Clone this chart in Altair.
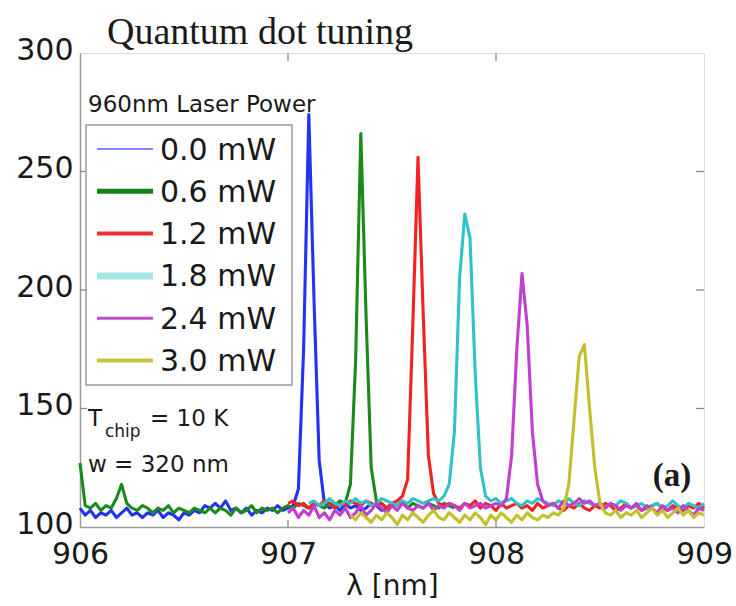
import altair as alt
import pandas as pd

# Photoluminescence spectra of a quantum dot under increasing 960 nm pump power
STEP_NM = 0.025

power_labels = ["0.0 mW", "0.6 mW", "1.2 mW", "1.8 mW", "2.4 mW", "3.0 mW"]
line_colors = ["#2233f5", "#1b8a1b", "#f52020", "#2fc3c9", "#c23ecf", "#c4bf2c"]
legend_colors = ["#7f86ff", "#17801a", "#ee3030", "#a6e6e6", "#c24fd2", "#c9c33a"]
legend_widths = [2, 5, 4, 7, 3, 4]

start_nm = [906.0, 906.0, 907.0, 907.1, 907.0, 907.3]

counts_00 = [108, 105, 107, 104, 106, 105, 107, 104, 106, 108,
             105, 106, 104, 106, 105, 107, 104, 106, 105, 103,
             106, 105, 107, 106, 109, 108, 110, 108, 111, 107,
             108, 106, 108, 105, 107, 106, 108, 107, 109, 107,
             108, 109, 116, 175, 274, 196, 128, 110, 108, 109,
             107, 110, 108, 109, 107, 108, 110, 109, 107, 108, 109]

counts_06 = [127, 109, 108, 110, 107, 109, 108, 112, 118, 110,
             108, 107, 109, 108, 106, 108, 107, 109, 106, 108,
             107, 106, 108, 107, 106, 108, 106, 108, 107, 105,
             108, 106, 107, 109, 106, 108, 107, 108, 106, 108,
             109, 108, 110, 109, 108, 110, 109, 108, 110, 109,
             111, 110, 118, 170, 266, 190, 125, 111, 110, 108,
             110, 109, 111, 108, 110, 109, 108, 110, 109, 108, 110, 109, 108]

counts_12 = [110, 111, 109, 110, 108, 110, 109, 111, 110, 108,
             110, 109, 111, 110, 109, 111, 110, 109, 110, 108,
             110, 111, 113, 120, 185, 256, 190, 130, 114, 110,
             109, 110, 109, 108, 110, 109, 111, 108, 110, 109,
             107, 110, 108, 109, 110, 108, 109, 107, 110, 108,
             109, 110, 108, 107, 109, 108, 110, 108, 107, 109,
             108, 110, 109, 107, 108, 110, 108, 109, 107, 108,
             109, 110, 108, 107, 109, 108, 107, 109, 108, 110, 108]

counts_18 = [110, 111, 109, 110, 112, 110, 109, 111, 110, 112,
             110, 111, 109, 110, 112, 111, 110, 109, 111, 110,
             112, 111, 110, 111, 112, 111, 113, 118, 140, 205,
             232, 222, 165, 125, 113, 111, 112, 110, 111, 112,
             110, 109, 111, 110, 112, 111, 110, 109, 111, 110,
             112, 110, 109, 111, 110, 109, 110, 108, 110, 109,
             111, 110, 108, 109, 110, 108, 109, 110, 108, 109,
             111, 109, 108, 110, 109, 108, 110]

counts_24 = [106, 108, 104, 107, 105, 109, 104, 106, 103, 107,
             105, 108, 104, 106, 109, 105, 107, 110, 108, 106,
             109, 107, 110, 108, 107, 109, 108, 110, 107, 109,
             108, 110, 109, 107, 110, 108, 109, 110, 108, 109,
             110, 109, 112, 130, 175, 207, 185, 140, 118, 111,
             109, 110, 108, 111, 109, 110, 112, 110, 111, 109,
             110, 108, 110, 109, 107, 109, 108, 110, 107, 109,
             108, 106, 109, 107, 108, 106, 109, 107, 105, 108, 107]

counts_30 = [105, 103, 106, 104, 102, 105, 103, 106, 104, 101,
             105, 103, 106, 104, 102, 105, 107, 104, 103, 106,
             104, 102, 105, 103, 106, 104, 101, 105, 103, 106,
             104, 102, 105, 103, 106, 104, 103, 105, 104, 106,
             105, 108, 118, 145, 172, 177, 150, 125, 110, 106,
             105, 107, 104, 106, 105, 107, 104, 106, 108, 105,
             107, 104, 106, 108, 105, 107, 104, 106, 105]

all_counts = [counts_00, counts_06, counts_12, counts_18, counts_24, counts_30]

rows = []
for label, x0, vals in zip(power_labels, start_nm, all_counts):
    for i, v in enumerate(vals):
        rows.append({"series": label, "lam": round(x0 + i * STEP_NM, 4), "counts": v})
spectra = pd.DataFrame(rows)

FONT = "DejaVu Sans"
TEXT_COLOR = "#1a1a1a"
FRAME = "#9a9a9a"

x_scale = alt.Scale(domain=[906, 909], nice=False, zero=False)
y_scale = alt.Scale(domain=[100, 300], nice=False, zero=False)

x_enc = alt.X(
    "lam:Q", scale=x_scale,
    axis=alt.Axis(values=[906, 907, 908, 909], format="d", ticks=False, grid=False,
                  labelFlush=False, labelPadding=12, labelFontSize=30, labelFont=FONT,
                  labelColor=TEXT_COLOR, domainColor=FRAME, domainWidth=1.5,
                  title="λ [nm]", titleFont=FONT, titleFontSize=28, titleFontWeight="normal",
                  titleColor=TEXT_COLOR, titlePadding=3),
)
y_enc = alt.Y(
    "counts:Q", scale=y_scale,
    axis=alt.Axis(values=[100, 150, 200, 250, 300], ticks=False, grid=False,
                  labelPadding=7, labelOffset=-3, labelFontSize=30, labelFont=FONT,
                  labelColor=TEXT_COLOR, domainColor=FRAME, domainWidth=1.5, title=None),
)

layers = []

# spectra, drawn in order of increasing pump power
for label, col in zip(power_labels, line_colors):
    layers.append(
        alt.Chart(spectra).transform_filter(alt.datum.series == label)
        .mark_line(color=col, strokeWidth=3.1, strokeJoin="round")
        .encode(x=x_enc, y=y_enc)
    )

# inward-pointing tick marks on all four sides of the box
x_ticks = pd.DataFrame({"lam": [907, 908]})
y_ticks = pd.DataFrame({"counts": [150, 200, 250]})
tick_style = dict(color="#8a8a8a", strokeWidth=1.3)
layers.append(alt.Chart(x_ticks).mark_rule(**tick_style).encode(
    x=alt.X("lam:Q", scale=x_scale), y=alt.value(474), y2=alt.value(467)))
layers.append(alt.Chart(x_ticks).mark_rule(**tick_style).encode(
    x=alt.X("lam:Q", scale=x_scale), y=alt.value(0), y2=alt.value(8)))
layers.append(alt.Chart(y_ticks).mark_rule(**tick_style).encode(
    y=alt.Y("counts:Q", scale=y_scale), x=alt.value(0), x2=alt.value(7)))
layers.append(alt.Chart(y_ticks).mark_rule(**tick_style).encode(
    y=alt.Y("counts:Q", scale=y_scale), x=alt.value(624), x2=alt.value(616)))

one = pd.DataFrame({"k": [0]})

# legend box with its entries
layers.append(alt.Chart(one).mark_rect(fill="white", stroke=FRAME, strokeWidth=1.5).encode(
    x=alt.value(6), x2=alt.value(212), y=alt.value(72), y2=alt.value(332)))
ROW0, ROW_STEP = 96, 42.3
for i, (label, col, w) in enumerate(zip(power_labels, legend_colors, legend_widths)):
    yy = ROW0 + i * ROW_STEP
    layers.append(alt.Chart(one).mark_rule(color=col, strokeWidth=w).encode(
        x=alt.value(17), x2=alt.value(73), y=alt.value(yy)))
    layers.append(alt.Chart(one).mark_text(
        align="left", baseline="middle", font=FONT, fontSize=30, color=TEXT_COLOR
    ).encode(x=alt.value(80), y=alt.value(yy + 1.5), text=alt.value(label)))


def label_text(txt, x, y, size, font=FONT, weight="normal", align="left"):
    return alt.Chart(one).mark_text(
        align=align, baseline="alphabetic", font=font, fontSize=size,
        fontWeight=weight, color=TEXT_COLOR
    ).encode(x=alt.value(x), y=alt.value(y), text=alt.value(txt))


layers += [
    label_text("Quantum dot tuning", 27, -9, 38, font="Liberation Serif"),
    label_text("960nm Laser Power", 8, 59, 23),
    label_text("T", 8, 373, 23),
    label_text("chip", 25, 384, 17),
    label_text("= 10 K", 70, 373, 23),
    label_text("w = 320 nm", 8, 419, 23),
    label_text("(a)", 592, 433, 33, font="Liberation Serif", weight="bold", align="center"),
]

chart = alt.layer(*layers).properties(
    width=624, height=474,
    autosize=alt.AutoSizeParams(type="none"),
    padding={"left": 80, "top": 53, "right": 32, "bottom": 79},
).configure_view(stroke=FRAME, strokeWidth=1.5).configure(background="white")

chart.save("out.html", embed_options={"renderer": "svg", "actions": False})
